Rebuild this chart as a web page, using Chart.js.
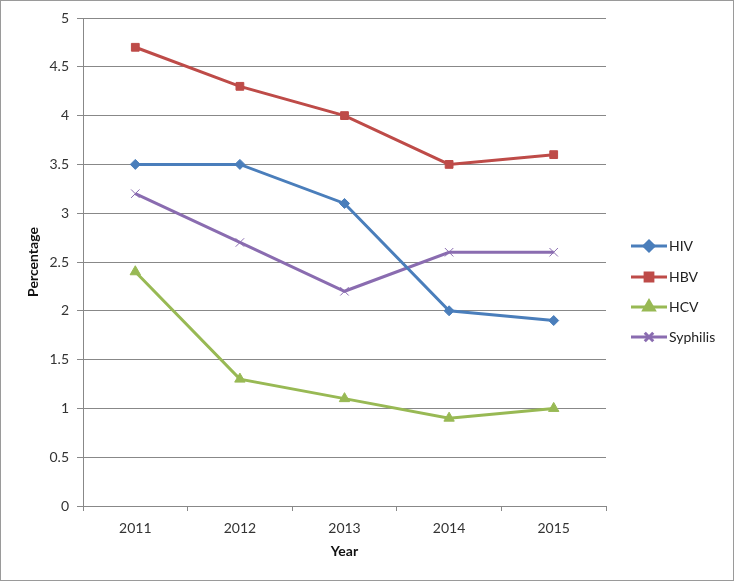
<!DOCTYPE html>
<html lang="en">
  <head>
    <meta charset="UTF-8">
    <title>Infection rates 2011-2015</title>
    <script src="https://cdn.jsdelivr.net/npm/chart.js@4.4.7/dist/chart.umd.min.js"></script>
    <style>
    body { margin: 0; background: #fff; }
    #wrap { width: 734px; height: 581px; position: relative; }
    </style>
  </head>
  <body>
    <div id="wrap"><canvas id="chart"></canvas></div>
    <script>
    const years = ['2011', '2012', '2013', '2014', '2015'];
    const hiv = [3.5, 3.5, 3.1, 2.0, 1.9];
    const hbv = [4.7, 4.3, 4.0, 3.5, 3.6];
    const hcv = [2.4, 1.3, 1.1, 0.9, 1.0];
    const syphilis = [3.2, 2.7, 2.2, 2.6, 2.6];

    const FONT = 'Lato, "Liberation Sans", sans-serif';

    // Excel style legend on the right: line sample + marker + name
    const sideLegend = {
      id: 'sideLegend',
      afterDraw(chart) {
        const ctx = chart.ctx;
        const x0 = 631, x1 = 667;
        const ys = [246, 277, 307, 337];
        chart.data.datasets.forEach((ds, i) => {
          const y = ys[i];
          ctx.save();
          ctx.strokeStyle = ds.borderColor;
          ctx.lineWidth = ds.borderWidth;
          ctx.beginPath();
          ctx.moveTo(x0, y);
          ctx.lineTo(x1, y);
          ctx.stroke();
          ctx.fillStyle = ds.pointBackgroundColor;
          ctx.strokeStyle = ds.pointBorderColor;
          Chart.helpers.drawPoint(ctx, {
            pointStyle: ds.pointStyle,
            radius: ds.pointRadius,
            rotation: 0,
            borderWidth: ds.pointBorderWidth
          }, (x0 + x1) / 2, y);
          ctx.fillStyle = '#222';
          ctx.font = '14px ' + FONT;
          ctx.textBaseline = 'middle';
          ctx.fillText(ds.label, x1 + 2, y);
          ctx.restore();
        });
        // chart frame
        ctx.save();
        ctx.strokeStyle = '#9a9a9a';
        ctx.lineWidth = 1;
        ctx.strokeRect(0.5, 0.5, chart.width - 1, chart.height - 1);
        ctx.restore();
      }
    };

    function series(label, data, color, style, radius, bw) {
      return {
        label: label,
        data: data,
        borderColor: color,
        backgroundColor: color,
        borderWidth: 3,
        pointStyle: style,
        pointRadius: radius,
        pointBackgroundColor: color,
        pointBorderColor: color,
        pointBorderWidth: bw,
        tension: 0,
        fill: false
      };
    }

    new Chart(document.getElementById('chart'), {
      type: 'line',
      data: {
        labels: years,
        datasets: [
          series('HIV', hiv, '#4a7ebb', 'rectRot', 5, 1),
          series('HBV', hbv, '#be4b48', 'rect', 5.5, 1),
          series('HCV', hcv, '#98b954', 'triangle', 6, 1),
          series('Syphilis', syphilis, '#8a6cb0', 'crossRot', 6, 1)
        ]
      },
      options: {
        responsive: true,
        maintainAspectRatio: false,
        animation: false,
        layout: { padding: { left: 0, top: 18, right: 128, bottom: 0 } },
        plugins: {
          legend: { display: false },
          tooltip: { enabled: false }
        },
        scales: {
          x: {
            offset: true,
            afterFit: (s) => { s.height = 75; },
            grid: {
              offset: true,
              drawOnChartArea: false,
              drawTicks: true,
              tickLength: 5,
              color: '#888'
            },
            border: { color: '#888', width: 1 },
            ticks: { color: '#333', font: { family: FONT, size: 14 }, padding: 9 },
            title: {
              display: true,
              text: 'Year',
              color: '#111',
              font: { family: FONT, size: 14, weight: 'bold' },
              padding: { top: 4, bottom: 21 }
            }
          },
          y: {
            min: 0,
            max: 5,
            afterFit: (s) => { s.width = 83; },
            ticks: {
              stepSize: 0.5,
              color: '#333',
              font: { family: FONT, size: 14 },
              padding: 8,
              callback: (v) => String(v)
            },
            grid: { color: '#888', tickLength: 6 },
            border: { color: '#888', width: 1 },
            title: {
              display: true,
              text: 'Percentage',
              color: '#111',
              font: { family: FONT, size: 14, weight: 'bold' },
              padding: { top: 25, bottom: 0 }
            }
          }
        }
      },
      plugins: [sideLegend]
    });
    </script>
  </body>
</html>
